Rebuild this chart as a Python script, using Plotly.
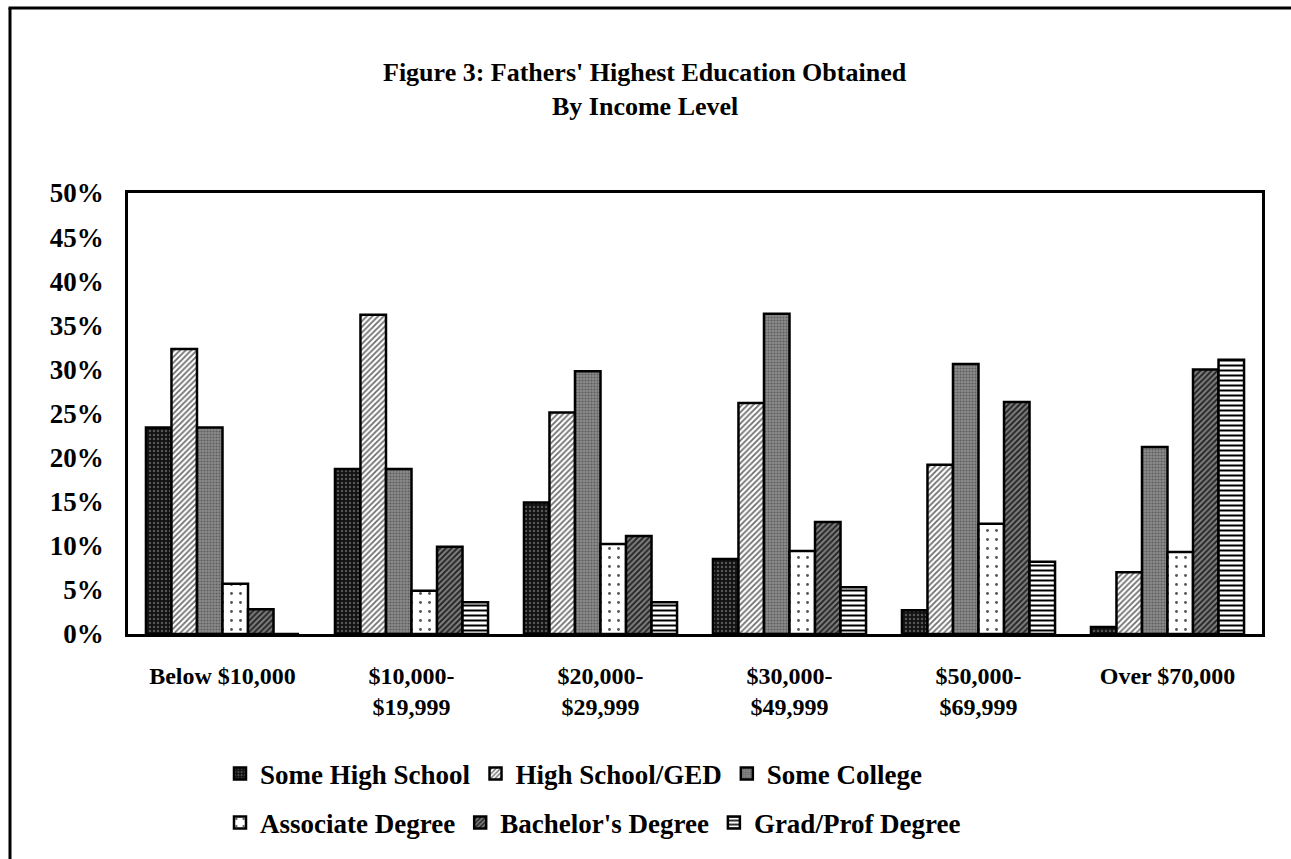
import plotly.graph_objects as go

# Income brackets (x categories)
income_levels = [
    "Below $10,000",
    "$10,000-<br>$19,999",
    "$20,000-<br>$29,999",
    "$30,000-<br>$49,999",
    "$50,000-<br>$69,999",
    "Over $70,000",
]

# Share of fathers by highest education, per income bracket (%)
some_high_school = [23.4, 18.7, 14.9, 8.5, 2.7, 0.8]
high_school_ged = [32.3, 36.2, 25.1, 26.2, 19.2, 7.0]
some_college = [23.4, 18.7, 29.8, 36.3, 30.6, 21.2]
associate_degree = [5.7, 4.9, 10.2, 9.4, 12.5, 9.3]
bachelors_degree = [2.8, 9.9, 11.1, 12.7, 26.3, 30.0]
grad_prof_degree = [0.0, 3.6, 3.6, 5.3, 8.2, 31.1]

y_ticks = [0, 5, 10, 15, 20, 25, 30, 35, 40, 45, 50]
y_tick_labels = [f"{v}%" for v in y_ticks]

SERIF = "Liberation Serif, Times New Roman, serif"

series = [
    ("Some High School", some_high_school,
     dict(shape=".", bgcolor="#111111", fgcolor="#555555", size=4, solidity=0.3), "legend"),
    ("High School/GED", high_school_ged,
     dict(shape="/", bgcolor="#ffffff", fgcolor="#6e6e6e", size=4, solidity=0.45), "legend"),
    ("Some College", some_college,
     dict(shape=".", bgcolor="#8c8c8c", fgcolor="#5e5e5e", size=3, solidity=0.4), "legend"),
    ("Associate Degree", associate_degree,
     dict(shape=".", bgcolor="#ffffff", fgcolor="#555555", size=9, solidity=0.08), "legend2"),
    ("Bachelor's Degree", bachelors_degree,
     dict(shape="/", bgcolor="#808080", fgcolor="#262626", size=4, solidity=0.5), "legend2"),
    ("Grad/Prof Degree", grad_prof_degree,
     dict(shape="-", bgcolor="#ffffff", fgcolor="#000000", size=5, solidity=0.4), "legend2"),
]

fig = go.Figure()
for name, values, pattern, leg in series:
    fig.add_trace(go.Bar(
        name=name,
        x=income_levels,
        y=values,
        legend=leg,
        marker=dict(
            color=pattern["bgcolor"],
            pattern=dict(fillmode="replace", **pattern),
            line=dict(color="#000000", width=2.5),
        ),
    ))

W, H = 1291, 859
L, R, T, B = 128, 29, 193, 225
pw, ph = W - L - R, H - T - B


def px_to_paper_x(px):
    return (px - L) / pw


def px_to_paper_y(py):
    return (H - B - py) / ph


legend_common = dict(
    orientation="h",
    xanchor="left",
    yanchor="middle",
    font=dict(family=SERIF, size=27, color="#000000", weight="bold"),
    bgcolor="rgba(0,0,0,0)",
    itemwidth=30,
    itemclick=False,
    traceorder="normal",
)

fig.update_layout(
    width=W,
    height=H,
    margin=dict(l=L, r=R, t=T, b=B),
    paper_bgcolor="#ffffff",
    plot_bgcolor="#ffffff",
    barmode="group",
    bargap=0.19,
    bargroupgap=0,
    font=dict(family=SERIF, color="#000000"),
    showlegend=True,
    legend=dict(x=px_to_paper_x(220), y=px_to_paper_y(774), **legend_common),
    legend2=dict(x=px_to_paper_x(220), y=px_to_paper_y(823), **legend_common),
    xaxis=dict(
        showline=True, linecolor="#000000", linewidth=2.5, mirror=True,
        showgrid=False, ticks="", ticklabelstandoff=18,
        tickfont=dict(family=SERIF, size=24, color="#000000", weight="bold"),
    ),
    yaxis=dict(
        range=[0, 50], tickmode="array", tickvals=y_ticks, ticktext=y_tick_labels,
        showline=True, linecolor="#000000", linewidth=2.5, mirror=True,
        showgrid=False, zeroline=False, ticks="", ticklabelstandoff=16,
        tickfont=dict(family=SERIF, size=27, color="#000000", weight="bold"),
    ),
    annotations=[
        dict(
            text="<b>Figure 3: Fathers' Highest Education Obtained</b>",
            xref="paper", yref="paper",
            x=px_to_paper_x(645), y=px_to_paper_y(73),
            xanchor="center", yanchor="middle", showarrow=False,
            font=dict(family=SERIF, size=26, color="#000000"),
        ),
        dict(
            text="<b>By Income Level</b>",
            xref="paper", yref="paper",
            x=px_to_paper_x(645), y=px_to_paper_y(106),
            xanchor="center", yanchor="middle", showarrow=False,
            font=dict(family=SERIF, size=26, color="#000000"),
        ),
    ],
    shapes=[
        # Outer frame: left and top edges of the surrounding box
        dict(
            type="line", xref="paper", yref="paper",
            x0=px_to_paper_x(10), x1=px_to_paper_x(10),
            y0=px_to_paper_y(870), y1=px_to_paper_y(8),
            line=dict(color="#000000", width=3), layer="above",
        ),
        dict(
            type="line", xref="paper", yref="paper",
            x0=px_to_paper_x(8.5), x1=px_to_paper_x(1300),
            y0=px_to_paper_y(8), y1=px_to_paper_y(8),
            line=dict(color="#000000", width=3), layer="above",
        ),
        # keep the right margin strip clean below the top edge
        dict(
            type="rect", xref="paper", yref="paper",
            x0=px_to_paper_x(1282), x1=px_to_paper_x(1300),
            y0=px_to_paper_y(880), y1=px_to_paper_y(11),
            line=dict(width=0), fillcolor="#ffffff", layer="above",
        ),
    ],
)

fig.write_html("out.html")
